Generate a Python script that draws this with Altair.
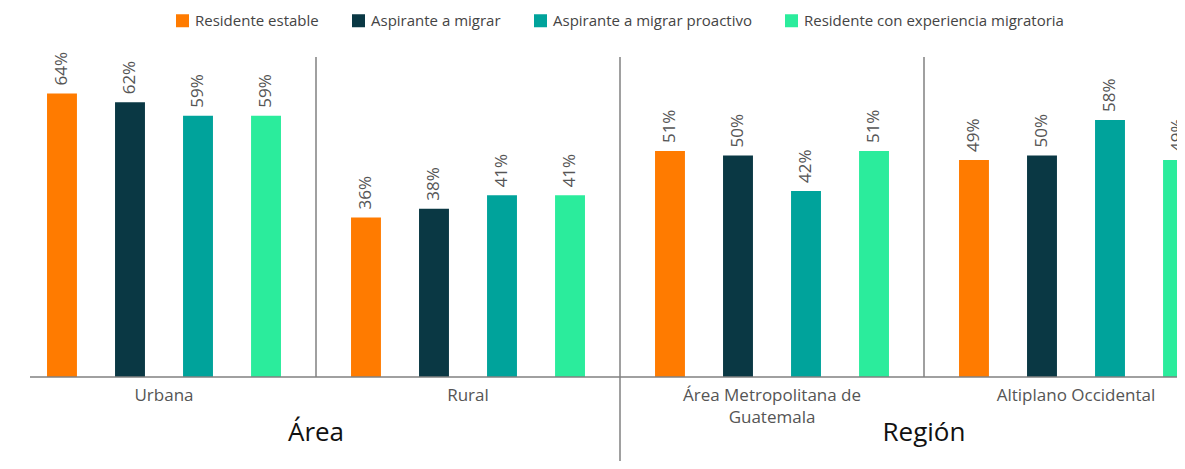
import altair as alt
import pandas as pd

groups = ["Urbana", "Rural", "Área Metropolitana de Guatemala", "Altiplano Occidental"]
series = ["Residente estable", "Aspirante a migrar", "Aspirante a migrar proactivo",
          "Residente con experiencia migratoria"]
colors = ["#FF7B00", "#0A3844", "#00A39B", "#2BEC9C"]

val_residente = [64, 36, 51, 49]
val_aspirante = [62, 38, 50, 50]
val_proactivo = [59, 41, 42, 58]
val_experiencia = [59, 41, 51, 49]

super_titles = ["Área", "Región"]
super_anchor = ["Rural", "Altiplano Occidental"]
separators = ["Rural", "Área Metropolitana de Guatemala", "Altiplano Occidental"]

rows = []
for s, vals in zip(series, [val_residente, val_aspirante, val_proactivo, val_experiencia]):
    for g, v in zip(groups, vals):
        rows.append({"group": g, "series": s, "value": v / 100, "label": f"{v}%"})
df = pd.DataFrame(rows)

W, H = 1169, 320
YMAX = 320 / 443

xscale = alt.Scale(domain=groups, range=[4, 1220], paddingInner=0, paddingOuter=0)
xaxis = alt.Axis(title=None, labelAngle=0, domain=False, ticks=False,
                 labelFontSize=17, labelColor="#555555", labelPadding=10,
                 labelLineHeight=22, labelLimit=400,
                 labelExpr="datum.value == 'Área Metropolitana de Guatemala' ? ['Área Metropolitana de', 'Guatemala'] : datum.value")

base = alt.Chart(df)

x_main = alt.X("group:N", sort=groups, scale=xscale, axis=xaxis, title=None)
x_edge = alt.X("group:N", sort=groups, scale=xscale, axis=xaxis, title=None, bandPosition=0)
xoff = alt.XOffset("series:N", sort=series,
                   scale=alt.Scale(domain=series, paddingInner=0.56, paddingOuter=0.515))
y_enc = alt.Y("value:Q", scale=alt.Scale(domain=[0, YMAX]), axis=None)

bars = base.mark_bar().encode(
    x=x_main, xOffset=xoff, y=y_enc,
    color=alt.Color("series:N", sort=series,
                    scale=alt.Scale(domain=series, range=colors),
                    legend=alt.Legend(orient="none", legendX=167, legendY=-44,
                                      direction="horizontal", columns=4, title=None,
                                      symbolType="square", symbolSize=169,
                                      symbolStrokeWidth=0, labelFontSize=15,
                                      labelColor="#444444", columnPadding=32,
                                      labelOffset=5, labelLimit=400)),
)

labels = base.mark_text(angle=270, align="left", baseline="middle", dx=8,
                        fontSize=17, color="#555555").encode(
    x=x_main, xOffset=xoff, y=y_enc, text="label:N",
)

sep_short = pd.DataFrame({"group": [s for s in separators if s != "Área Metropolitana de Guatemala"]})
sep_long = pd.DataFrame({"group": ["Área Metropolitana de Guatemala"]})

rule_short = alt.Chart(sep_short).mark_rule(color="#808080", strokeWidth=1.5).encode(
    x=x_edge, y=alt.value(0), y2=alt.value(H),
)
rule_long = alt.Chart(sep_long).mark_rule(color="#808080", strokeWidth=1.5).encode(
    x=x_edge, y=alt.value(0), y2=alt.value(H + 90),
)

baseline = alt.Chart(pd.DataFrame({"k": [0]})).mark_rule(color="#808080", strokeWidth=1.5).encode(
    x=alt.value(22), x2=alt.value(W), y=alt.value(H),
)

titles_df = pd.DataFrame({"group": super_anchor, "title": super_titles})
titles = alt.Chart(titles_df).mark_text(fontSize=26, color="#111111", baseline="middle",
                                         align="center").encode(
    x=x_edge, y=alt.value(376), text="title:N",
)

chart = alt.layer(bars, labels, rule_short, rule_long, baseline, titles).properties(
    width=W, height=H,
    autosize=alt.AutoSizeParams(type="none"),
    padding={"left": 0, "top": 49, "right": 0, "bottom": 84},
).configure(font="Open Sans").configure_view(stroke=None)

chart.save("out.html", embed_options={"renderer": "svg", "actions": False})
